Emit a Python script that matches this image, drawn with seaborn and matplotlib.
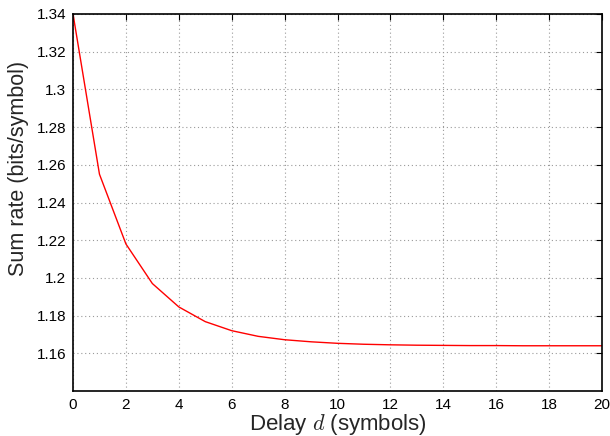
import matplotlib
matplotlib.use("Agg")
import matplotlib.pyplot as plt
import seaborn as sns
import pandas as pd

# Sum rate versus decoding delay
delay = list(range(0, 21))
sum_rate = [1.340, 1.255, 1.218, 1.197, 1.1846, 1.1768, 1.1720, 1.1690, 1.1672,
            1.1661, 1.1653, 1.1648, 1.1645, 1.1643, 1.1642, 1.1641, 1.1641,
            1.1640, 1.1640, 1.1640, 1.1640]
x_ticks = list(range(0, 21, 2))
y_ticks = [1.16, 1.18, 1.20, 1.22, 1.24, 1.26, 1.28, 1.30, 1.32, 1.34]
y_tick_labels = ["1.16", "1.18", "1.2", "1.22", "1.24", "1.26", "1.28", "1.3", "1.32", "1.34"]

df = pd.DataFrame({"delay": delay, "rate": sum_rate})

sns.set_theme(style="white")
plt.rcParams["font.family"] = ["Liberation Sans", "DejaVu Sans"]
plt.rcParams["mathtext.fontset"] = "cm"

fig = plt.figure(figsize=(6.1, 4.36), dpi=100)
ax = fig.add_axes([0.1197, 0.1032, 0.8672, 0.8647])

sns.lineplot(data=df, x="delay", y="rate", ax=ax, color="red", linewidth=1.0)

ax.set_xlim(0, 20)
ax.set_ylim(1.14, 1.34)
ax.set_xticks(x_ticks)
ax.set_yticks(y_ticks)
ax.set_yticklabels(y_tick_labels)
ax.grid(True, linestyle=(0, (1, 2.5)), color="#9a9a9a", linewidth=0.8)

for s in ax.spines.values():
    s.set_color("black")
    s.set_linewidth(1.2)

ax.tick_params(axis="both", which="both", direction="in", length=4, width=0.8,
               top=True, right=True, labelsize=11, colors="black", pad=5)

ax.set_xlabel("Delay $d$ (symbols)", fontsize=16, labelpad=0)
ax.set_ylabel("Sum rate (bits/symbol)", fontsize=15.5)
ax.yaxis.set_label_coords(-0.083, 0.59)

fig.savefig("out.png", dpi=100)
